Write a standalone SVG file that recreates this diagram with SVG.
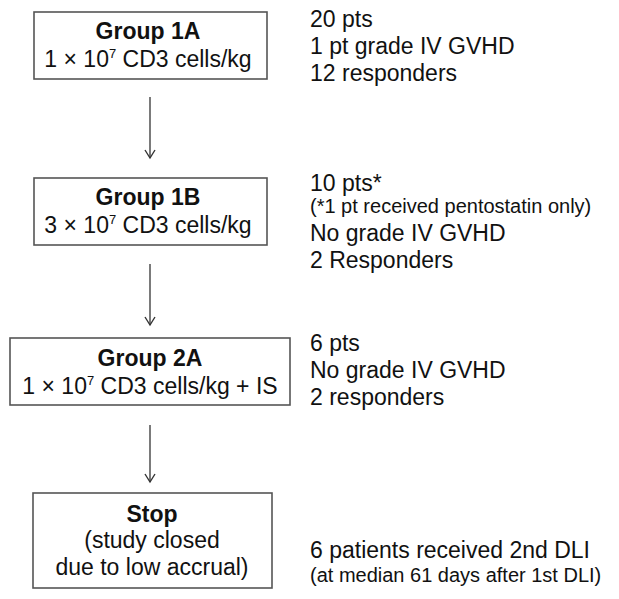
<svg xmlns="http://www.w3.org/2000/svg" width="619" height="599" viewBox="0 0 619 599">
<defs>
<style>
text{font-family:"Liberation Sans",Arial,sans-serif;fill:#111}
.box{fill:#fff;stroke:#555;stroke-width:1.6}
.t{font-size:23px;font-weight:bold;text-anchor:middle}
.s{font-size:23px;text-anchor:middle}
.r{font-size:23px}
.n{font-size:20px}
.sup{font-size:13px}
.conn{stroke:#333;stroke-width:1.3;fill:none}
</style>
<marker id="ah" markerWidth="12" markerHeight="12" refX="10" refY="6" orient="auto" markerUnits="userSpaceOnUse">
<path d="M2,1 L10,6 L2,11" fill="none" stroke="#333" stroke-width="1.4"/>
</marker>
</defs>
<rect width="619" height="599" fill="#fff"/>
<g id="connectors">
<line class="conn" x1="150" y1="97" x2="150" y2="158" marker-end="url(#ah)"/>
<line class="conn" x1="150" y1="264" x2="150" y2="325" marker-end="url(#ah)"/>
<line class="conn" x1="150" y1="425" x2="150" y2="482" marker-end="url(#ah)"/>
</g>
<g id="group1a">
<rect class="box" x="34" y="12" width="233" height="67"/>
<text class="t" x="148" y="39">Group 1A</text>
<text class="s" x="148" y="67">1 × 10<tspan class="sup" dy="-9">7</tspan><tspan dy="9"> CD3 cells/kg</tspan></text>
</g>
<g id="group1a-notes">
<text class="r" x="310" y="27">20 pts</text>
<text class="r" x="310" y="54">1 pt grade IV GVHD</text>
<text class="r" x="310" y="81">12 responders</text>
</g>
<g id="group1b">
<rect class="box" x="34" y="178" width="233" height="67"/>
<text class="t" x="148" y="205">Group 1B</text>
<text class="s" x="148" y="233">3 × 10<tspan class="sup" dy="-9">7</tspan><tspan dy="9"> CD3 cells/kg</tspan></text>
</g>
<g id="group1b-notes">
<text class="r" x="310" y="191">10 pts*</text>
<text class="n" x="310" y="213">(*1 pt received pentostatin only)</text>
<text class="r" x="310" y="241">No grade IV GVHD</text>
<text class="r" x="310" y="268">2 Responders</text>
</g>
<g id="group2a">
<rect class="box" x="10" y="338" width="280" height="67"/>
<text class="t" x="150" y="366">Group 2A</text>
<text class="s" x="150" y="394">1 × 10<tspan class="sup" dy="-9">7</tspan><tspan dy="9"> CD3 cells/kg + IS</tspan></text>
</g>
<g id="group2a-notes">
<text class="r" x="310" y="351">6 pts</text>
<text class="r" x="310" y="378">No grade IV GVHD</text>
<text class="r" x="310" y="405">2 responders</text>
</g>
<g id="stop">
<rect class="box" x="33" y="493" width="239" height="95"/>
<text class="t" x="152" y="522">Stop</text>
<text class="s" x="152" y="548">(study closed</text>
<text class="s" x="152" y="575">due to low accrual)</text>
</g>
<g id="stop-notes">
<text class="r" x="310" y="558">6 patients received 2nd DLI</text>
<text class="n" x="310" y="582">(at median 61 days after 1st DLI)</text>
</g>
</svg>
